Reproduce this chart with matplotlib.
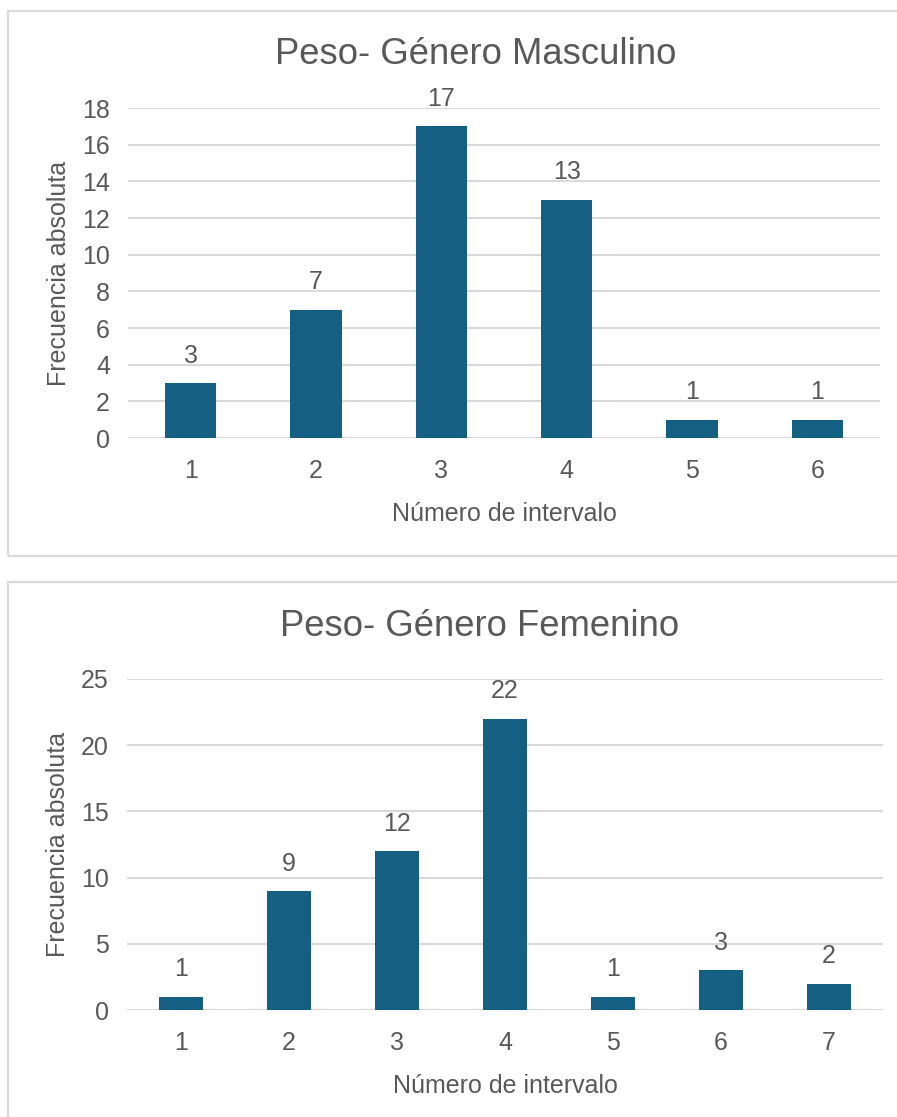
import matplotlib.pyplot as plt
from matplotlib.patches import Rectangle

plt.rcParams['font.family'] = ['Liberation Sans', 'DejaVu Sans']

W, H = 897, 1117

# data
masc_intervals = ['1', '2', '3', '4', '5', '6']
masc_counts = [3, 7, 17, 13, 1, 1]
fem_intervals = ['1', '2', '3', '4', '5', '6', '7']
fem_counts = [1, 9, 12, 22, 1, 3, 2]

BAR = '#156082'
TXT = '#595959'
GRID = '#d9d9d9'
FS = 18


def fig_box(px_left, px_top, px_right, px_bottom):
    return [px_left / W, 1 - px_bottom / H, (px_right - px_left) / W, (px_bottom - px_top) / H]


def plot(fig, rect, box, title, title_xy, cats, vals, ymax, step):
    # chart border
    bx = fig_box(*box)
    fig.patches.append(Rectangle((bx[0], bx[1]), bx[2], bx[3], transform=fig.transFigure,
                                 fill=False, edgecolor=GRID, linewidth=1.6))
    ax = fig.add_axes(fig_box(*rect))
    x = range(len(cats))
    bars = ax.bar(x, vals, width=0.41, color=BAR, zorder=3)
    ax.set_xlim(-0.5, len(cats) - 0.5)
    ax.set_ylim(0, ymax)
    ax.set_yticks(range(0, ymax + 1, step))
    ax.set_xticks(list(x))
    ax.set_xticklabels(cats)
    ax.grid(axis='y', color=GRID, linewidth=1.5, zorder=0)
    for s in ax.spines.values():
        s.set_visible(False)
    ax.tick_params(length=0, labelsize=FS, colors=TXT, pad=13)
    ax.tick_params(axis='x', pad=15)
    ax.bar_label(bars, padding=11, fontsize=FS, color=TXT)
    ax.set_ylabel('Frecuencia absoluta', fontsize=FS, color=TXT, labelpad=8)
    ax.set_xlabel('Número de intervalo', fontsize=FS, color=TXT, labelpad=14)
    fig.text(title_xy[0] / W, 1 - title_xy[1] / H, title, fontsize=26.3,
             color=TXT, ha='center', va='center')
    return ax


fig = plt.figure(figsize=(W / 100, H / 100), dpi=100)

plot(fig, (128, 108, 880, 438), (8, 11, 905, 556), 'Peso- Género Masculino', (476, 55),
     masc_intervals, masc_counts, 18, 2)
plot(fig, (127, 679, 883, 1010), (8, 582, 905, 1125), 'Peso- Género Femenino', (480, 626),
     fem_intervals, fem_counts, 25, 5)

fig.savefig('out.png', dpi=100)
